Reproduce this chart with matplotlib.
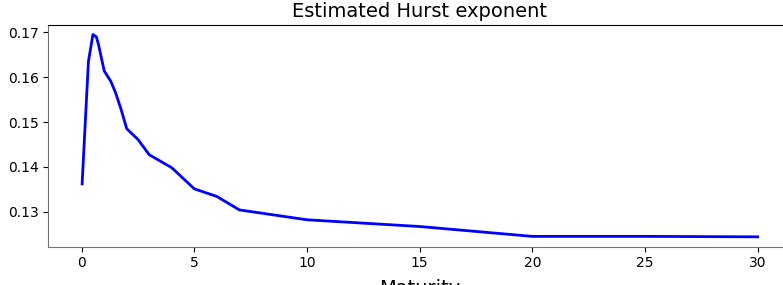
import matplotlib
matplotlib.use("Agg")
import matplotlib.pyplot as plt

# maturities (years) and estimated Hurst exponent
maturity = [0.02, 0.3, 0.5, 0.65, 0.75, 1.0, 1.3, 1.5, 1.75, 2.0, 2.5, 3.0,
            4.0, 5.0, 6.0, 7.0, 10.0, 15.0, 20.0, 25.0, 30.0]
hurst = [0.1362, 0.1635, 0.1695, 0.1690, 0.1672, 0.1614, 0.1590, 0.1566,
         0.1528, 0.1485, 0.1461, 0.1427, 0.1398, 0.1351, 0.1334, 0.1304,
         0.1282, 0.1267, 0.1245, 0.1245, 0.1244]

fig = plt.figure(figsize=(7.83, 2.85), dpi=100)
# axes run past the right edge of the picture, as in the reference
ax = fig.add_axes([0.0617, 0.1344, 0.9485, 0.7779])
ax.plot(maturity, hurst, color="blue", linewidth=2)
ax.set_title("Estimated Hurst exponent", fontsize=14)
ax.set_xlabel("Maturity", fontsize=14, labelpad=6)
ax.set_xlim(-1.48, 31.48)
ax.set_ylim(0.1222, 0.17163)
ax.set_xticks([0, 5, 10, 15, 20, 25, 30])
ax.set_yticks([0.13, 0.14, 0.15, 0.16, 0.17])
ax.tick_params(labelsize=10)
for side in ["left", "bottom"]:
    ax.spines[side].set_color("0.45")
fig.savefig("out.png", dpi=100)
